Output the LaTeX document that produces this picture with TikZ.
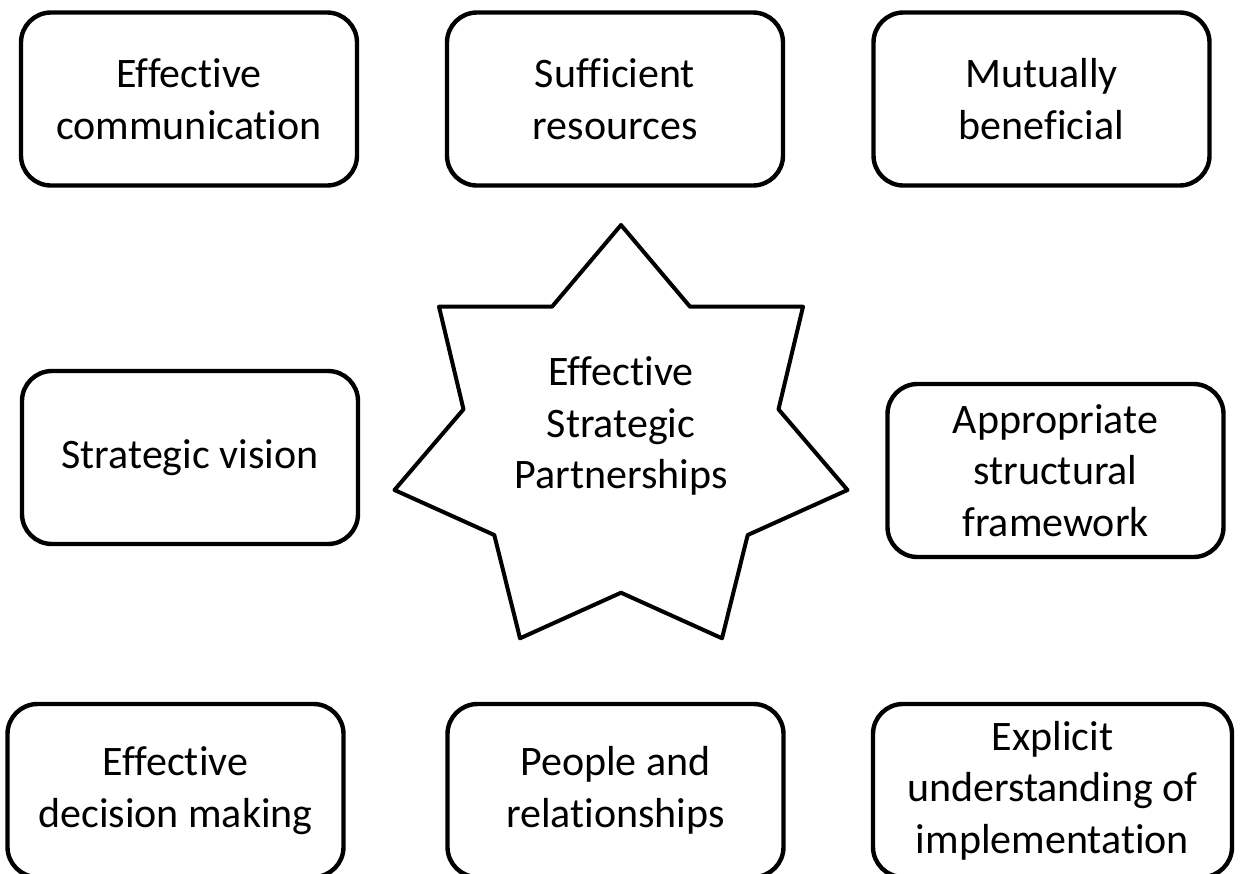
\documentclass[tikz,border=0pt]{standalone}
\usepackage{fontspec}
\setmainfont{Carlito}[Ligatures={NoCommon,NoRare}]
\tikzset{
  caixa/.style={draw, line width=2.2pt, rounded corners=15pt, minimum width=168pt,
    minimum height=86.5pt, align=center, inner sep=2pt, font=\fontsize{21}{25.75}\selectfont},
  texto/.style={align=center, inner sep=0pt, font=\fontsize{21}{25.75}\selectfont}
}
\begin{document}
\begin{tikzpicture}[x=0.5pt,y=-0.5pt]  %1 unidade = 1 pixel da figura
  \clip (0,0) rectangle (1241,873); %Moldura
  \useasboundingbox (0,0) rectangle (1241,873);
      %Estrela central
  \draw[line width=2pt, line join=round] (621,225) -- (690,306.7) -- (803,306.7) -- (778.5,409.3)
     -- (847.5,490) -- (747.7,535) -- (722,638.3) -- (621,592.7) -- (520,638.3) -- (494.3,535)
     -- (394.5,490) -- (463.5,409.3) -- (439,306.7) -- (552,306.7) -- cycle;
  \node[texto] (centro) at (621,426) {Effective\\Strategic\\Partnerships};
      %Linha de cima
  \node[caixa] (comunicacao) at (189,99) {Effective\\communication};
  \node[caixa] (recursos) at (615,99) {Sufficient\\resources};
  \node[caixa] (mutuo) at (1041.5,99) {Mutually\\beneficial};
      %Linha do meio
  \node[caixa] (visao) at (190,457.5) {Strategic vision};
  \node[caixa] (estrutura) at (1055.5,470.5) {Appropriate\\structural\\framework};
      %Linha de baixo (cortada pela margem)
  \node[caixa] (decisao) at (175.5,790.5) {Effective\\decision making};
  \node[caixa] (pessoas) at (615.5,790.5) {People and\\relationships};
  \node[caixa, minimum width=179.5pt] (implementacao) at (1052.5,790.5) {Explicit\\understanding of\\implementation};
\end{tikzpicture}
\end{document}
